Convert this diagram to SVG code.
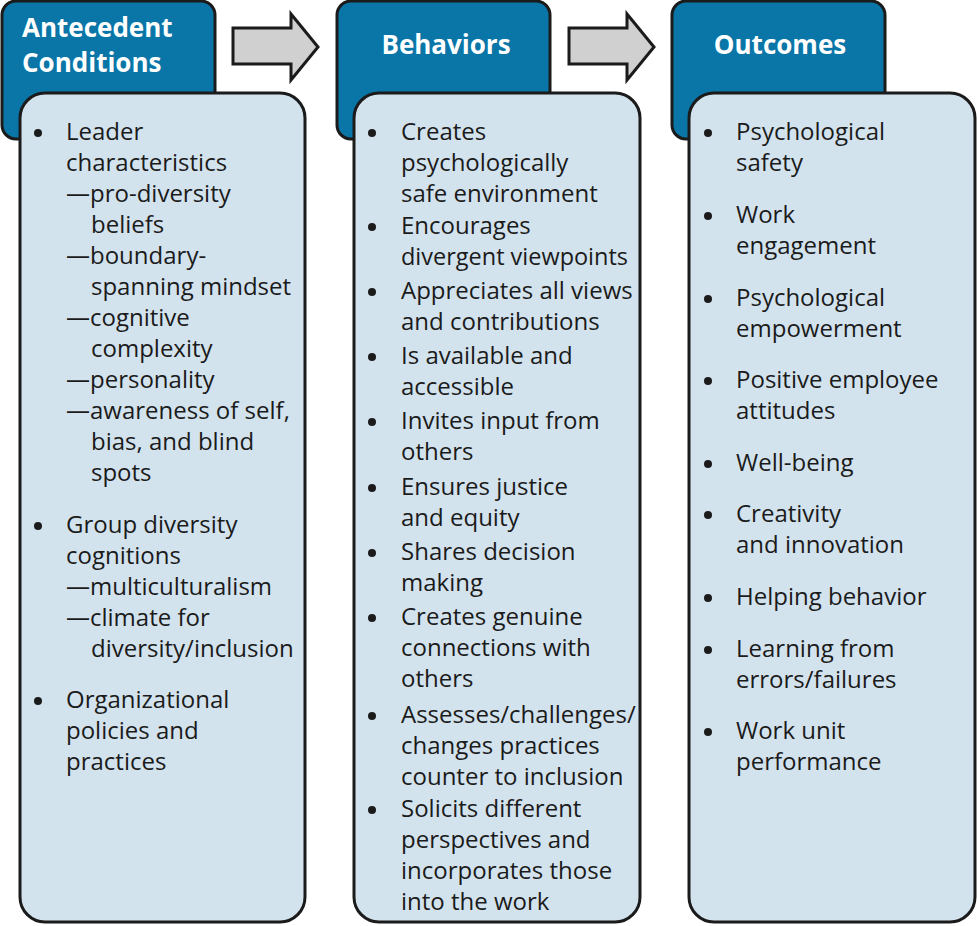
<svg xmlns="http://www.w3.org/2000/svg" width="977" height="926" viewBox="0 0 977 926">
<style>
.hd{fill:#0a76a8;stroke:#1b1b1b;stroke-width:3}
.bd{fill:#d3e3ee;stroke:#1b1b1b;stroke-width:3}
.ar{fill:#d0d0d0;stroke:#1b1b1b;stroke-width:3;stroke-linejoin:miter}
.ht{font-family:"Open Sans","Noto Sans",sans-serif;font-weight:bold;font-size:26px;fill:#fff}
.t{font-family:"Open Sans","Noto Sans",sans-serif;font-size:24px;fill:#1b1b1b}
.b{fill:#1b1b1b}
</style>
<g id="connectors">
<polygon class="ar" points="233,28 291,28 291,14 318,47 291,80 291,64 233,64"/>
<polygon class="ar" points="569,28 627,28 627,14 654,47 627,80 627,64 569,64"/>
</g>
<g id="antecedent">
<rect class="hd" x="2" y="1" width="213" height="138" rx="14"/>
<text class="ht" x="22" y="37">Antecedent</text>
<text class="ht" x="22" y="72">Conditions</text>
<rect class="bd" x="20" y="93" width="285" height="829" rx="25"/>
<g class="t">
<circle class="b" cx="38" cy="133" r="4"/><circle class="b" cx="38" cy="526" r="4"/><circle class="b" cx="38" cy="701" r="4"/>
<text x="66" y="140">Leader</text>
<text x="66" y="171">characteristics</text>
<text x="66" y="202">—pro-diversity</text>
<text x="91" y="233">beliefs</text>
<text x="66" y="264">—boundary-</text>
<text x="91" y="295">spanning mindset</text>
<text x="66" y="326">—cognitive</text>
<text x="91" y="357">complexity</text>
<text x="66" y="388">—personality</text>
<text x="66" y="419">—awareness of self,</text>
<text x="91" y="450">bias, and blind</text>
<text x="91" y="481">spots</text>
<text x="66" y="533">Group diversity</text>
<text x="66" y="564">cognitions</text>
<text x="66" y="595">—multiculturalism</text>
<text x="66" y="626">—climate for</text>
<text x="91" y="657">diversity/inclusion</text>
<text x="66" y="708">Organizational</text>
<text x="66" y="739">policies and</text>
<text x="66" y="770">practices</text>
</g>
</g>
<g id="behaviors">
<rect class="hd" x="337" y="1" width="213" height="138" rx="14"/>
<text class="ht" x="446" y="54" text-anchor="middle">Behaviors</text>
<rect class="bd" x="354" y="93" width="286" height="829" rx="25"/>
<g class="t">
<circle class="b" cx="372" cy="133" r="4"/><circle class="b" cx="372" cy="227" r="4"/><circle class="b" cx="372" cy="292" r="4"/><circle class="b" cx="372" cy="357" r="4"/><circle class="b" cx="372" cy="422" r="4"/><circle class="b" cx="372" cy="488" r="4"/><circle class="b" cx="372" cy="553" r="4"/><circle class="b" cx="372" cy="618" r="4"/><circle class="b" cx="372" cy="716" r="4"/><circle class="b" cx="372" cy="810" r="4"/>
<text x="401" y="140">Creates</text>
<text x="401" y="171">psychologically</text>
<text x="401" y="202">safe environment</text>
<text x="401" y="234">Encourages</text>
<text x="401" y="265" textLength="227" lengthAdjust="spacingAndGlyphs">divergent viewpoints</text>
<text x="401" y="299">Appreciates all views</text>
<text x="401" y="330">and contributions</text>
<text x="401" y="364">Is available and</text>
<text x="401" y="395">accessible</text>
<text x="401" y="429">Invites input from</text>
<text x="401" y="460">others</text>
<text x="401" y="495">Ensures justice</text>
<text x="401" y="526">and equity</text>
<text x="401" y="560">Shares decision</text>
<text x="401" y="591">making</text>
<text x="401" y="625">Creates genuine</text>
<text x="401" y="656">connections with</text>
<text x="401" y="687">others</text>
<text x="401" y="723">Assesses/challenges/</text>
<text x="401" y="754">changes practices</text>
<text x="401" y="785">counter to inclusion</text>
<text x="401" y="817">Solicits different</text>
<text x="401" y="848">perspectives and</text>
<text x="401" y="879">incorporates those</text>
<text x="401" y="910">into the work</text>
</g>
</g>
<g id="outcomes">
<rect class="hd" x="672" y="1" width="213" height="138" rx="14"/>
<text class="ht" x="780" y="54" text-anchor="middle">Outcomes</text>
<rect class="bd" x="689" y="93" width="286" height="829" rx="25"/>
<g class="t">
<circle class="b" cx="708" cy="133" r="4"/><circle class="b" cx="708" cy="216" r="4"/><circle class="b" cx="708" cy="299" r="4"/><circle class="b" cx="708" cy="381" r="4"/><circle class="b" cx="708" cy="464" r="4"/><circle class="b" cx="708" cy="515" r="4"/><circle class="b" cx="708" cy="598" r="4"/><circle class="b" cx="708" cy="650" r="4"/><circle class="b" cx="708" cy="732" r="4"/>
<text x="736" y="140">Psychological</text>
<text x="736" y="171">safety</text>
<text x="736" y="223">Work</text>
<text x="736" y="254">engagement</text>
<text x="736" y="306">Psychological</text>
<text x="736" y="337">empowerment</text>
<text x="736" y="388">Positive employee</text>
<text x="736" y="419">attitudes</text>
<text x="736" y="471">Well-being</text>
<text x="736" y="522">Creativity</text>
<text x="736" y="553">and innovation</text>
<text x="736" y="605">Helping behavior</text>
<text x="736" y="657">Learning from</text>
<text x="736" y="688">errors/failures</text>
<text x="736" y="739">Work unit</text>
<text x="736" y="770">performance</text>
</g>
</g>
</svg>
